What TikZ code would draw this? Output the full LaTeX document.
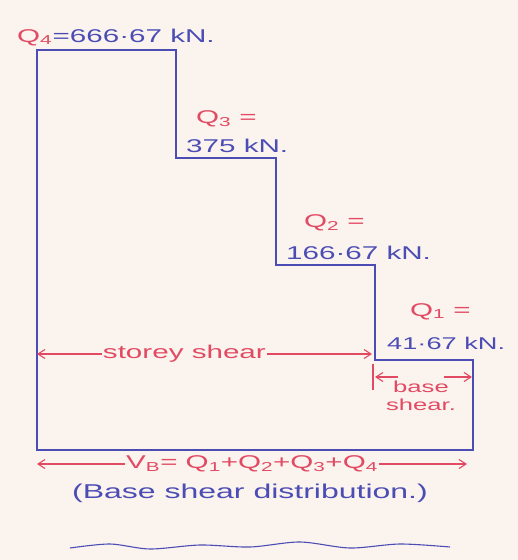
\documentclass[tikz,border=0pt]{standalone}
\usepackage{fontspec}
\setmainfont{Liberation Sans}
\newfontfamily\hand[FakeStretch=1.6]{Liberation Sans}
\usetikzlibrary{arrows.meta}
\definecolor{paper}{HTML}{FBF4EE}
\definecolor{ink}{HTML}{4B4DB5}
\definecolor{redink}{HTML}{E24A63}
\begin{document}
\begin{tikzpicture}[x=1pt,y=-1pt,
  outline/.style={draw=ink, line width=1.6pt, line join=miter},
  dimline/.style={draw=redink, line width=1.1pt},
  dimarrow/.style={dimline, {Straight Barb[length=7pt,width=9pt]}-{Straight Barb[length=7pt,width=9pt]}},
  qred/.style={text=redink, font=\hand\fontsize{18.5}{20}\selectfont, inner sep=0pt, anchor=base west},
  qblue/.style={text=ink, font=\hand\fontsize{18.5}{20}\selectfont, inner sep=0pt, anchor=base west},
  onarrow/.style={fill=paper, inner sep=1pt, text=redink, font=\hand\fontsize{18.5}{20}\selectfont}]
\fill[paper] (0,0) rectangle (518,560);
\useasboundingbox (0,0) rectangle (518,560);
% outline corners
\coordinate (a1) at (37,50);
\coordinate (a2) at (176,50);
\coordinate (a3) at (176,158);
\coordinate (a4) at (276,158);
\coordinate (a5) at (276,265);
\coordinate (a6) at (375,265);
\coordinate (a7) at (375,360);
\coordinate (a8) at (473,360);
\coordinate (a9) at (473,450);
\coordinate (a10) at (37,450);
\draw[outline] (a1) -- (a2) -- (a3) -- (a4) -- (a5) -- (a6) -- (a7) -- (a8) -- (a9) -- (a10) -- cycle;
% storey loads
\node[qred] (q4) at (17,42) {Q\textsubscript{4}};
\node[qblue] (v4) at (q4.base east) {=666·67 kN.};
\node[qred] (q3) at (196,123) {Q\textsubscript{3} =};
\node[qblue] (v3) at (186,152) {375 kN.};
\node[qred] (q2) at (304,227) {Q\textsubscript{2} =};
\node[qblue] (v2) at (286,259) {166·67 kN.};
\node[qred] (q1) at (410,316) {Q\textsubscript{1} =};
\node[qblue, font=\hand\fontsize{17}{19}\selectfont] (v1) at (387,349) {41·67 kN.};
% storey shear
\coordinate (ssl) at (37,354);
\coordinate (ssr) at (372,354);
\draw[dimarrow] (ssl) -- node[onarrow, pos=0.44] (sst) {storey shear} (ssr);
% base shear
\coordinate (bt1) at (373,364);
\coordinate (bt2) at (373,390);
\draw[dimline] (bt1) -- (bt2);
\node[text=redink, font=\hand\fontsize{16}{18}\selectfont, align=center, inner sep=0pt] (bs) at (421,396) {base\\shear.};
\coordinate (bsl) at (375,377);
\coordinate (bslm) at (398,377);
\coordinate (bsrm) at (444,377);
\coordinate (bsr) at (472,377);
\draw[dimline, {Straight Barb[length=7pt,width=9pt]}-] (bsl) -- (bslm);
\draw[dimline, -{Straight Barb[length=7pt,width=9pt]}] (bsrm) -- (bsr);
% total base shear
\coordinate (vbl) at (37,464);
\coordinate (vbr) at (467,464);
\draw[dimarrow] (vbl) -- node[onarrow, pos=0.5] (vbt) {V\textsubscript{B}= Q\textsubscript{1}+Q\textsubscript{2}+Q\textsubscript{3}+Q\textsubscript{4}} (vbr);
% caption
\node[text=ink, font=\hand\fontsize{20}{22}\selectfont, inner sep=0pt] (cap) at (250,493) {(Base shear distribution.)};
% wavy underline
\draw[ink, line width=1.1pt] plot[smooth] coordinates {(70,548) (110,544) (150,549) (200,545) (250,547) (300,542) (350,548) (400,544) (450,547)};
\end{tikzpicture}
\end{document}
